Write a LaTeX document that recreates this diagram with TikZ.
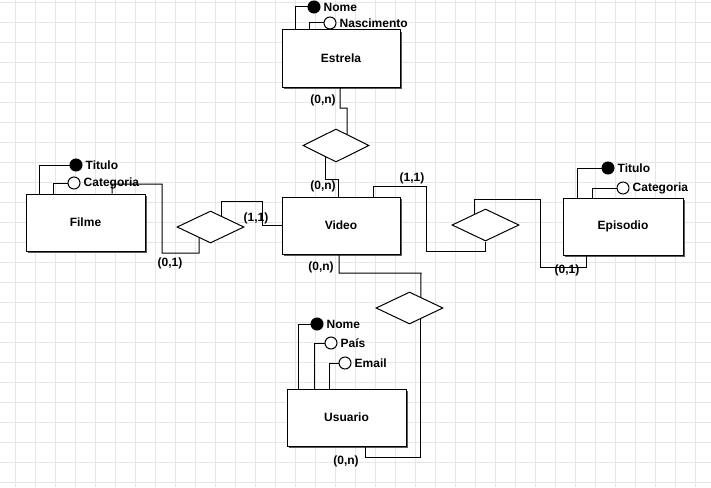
\documentclass[tikz,border=0pt]{standalone}
\usepackage{fontspec}
\setmainfont{Liberation Sans}
\usetikzlibrary{shapes.geometric,calc,shadows}
\definecolor{gridc}{HTML}{E6E6E6}
\begin{document}
\begin{tikzpicture}[x=1pt,y=-1pt,
  ent/.style={draw,fill=white,line width=1pt,minimum width=118pt,minimum height=57pt,inner sep=0pt,
    font=\fontsize{12}{14}\selectfont\bfseries,
    drop shadow={shadow xshift=2pt,shadow yshift=-2pt,fill=black!65,opacity=1}},
  rel/.style={draw,fill=white,diamond,minimum width=67pt,minimum height=32pt,inner sep=0pt,line width=1pt},
  keyatt/.style={circle,draw,fill=black,minimum size=12pt,inner sep=0pt,line width=1pt},
  att/.style={circle,draw,fill=white,minimum size=12pt,inner sep=0pt,line width=1pt},
  lbl/.style={font=\fontsize{12}{14}\selectfont\bfseries,inner sep=1pt},
  conn/.style={line width=1pt},
]
\useasboundingbox (0,0) rectangle (711,487);
\fill[white] (0,0) rectangle (711,487);
\foreach \x in {15,35,...,695} \draw[gridc,line width=0.6pt] (\x,0) -- (\x,487);
\foreach \y in {2,22,...,482} \draw[gridc,line width=0.6pt] (0,\y) -- (711,\y);

% entities
\node[ent] (estrela) at (341,58.5) {Estrela};
\node[ent] (video) at (341,225.5) {Video};
\node[ent,minimum width=119pt] (filme) at (85.5,222.5) {Filme};
\node[ent,minimum width=120pt] (episodio) at (623,226.5) {Episodio};
\node[ent,minimum width=119pt] (usuario) at (346.5,417.5) {Usuario};

% relationships
\node[rel,minimum width=66pt,minimum height=33pt] (r1) at (336,145.5) {};
\node[rel] (r2) at (210.5,227) {};
\node[rel] (r3) at (485.5,225) {};
\node[rel] (r4) at (409.5,308) {};

% attributes
\node[keyatt,label={[lbl,label distance=2pt]right:Nome}] (enome) at (314,7) {};
\node[att,label={[lbl,label distance=2pt]right:Nascimento}] (enasc) at (330,23) {};
\node[keyatt,label={[lbl,label distance=2pt]right:Titulo}] (ftit) at (76,165) {};
\node[att,label={[lbl,label distance=2pt]right:Categoria}] (fcat) at (74,183) {};
\node[keyatt,label={[lbl,label distance=2pt]right:Titulo}] (ptit) at (608,168) {};
\node[att,label={[lbl,label distance=2pt]right:Categoria}] (pcat) at (623,188) {};
\node[keyatt,label={[lbl,label distance=2pt]right:Nome}] (unome) at (317,324) {};
\node[att,label={[lbl,label distance=2pt]right:País}] (upais) at (331,343) {};
\node[att,label={[lbl,label distance=2pt]right:Email}] (uemail) at (345,363) {};

% attribute lines
\draw[conn] (estrela.north -| 295,0) |- (enome.west);
\draw[conn] (estrela.north -| 309,0) |- (enasc.west);
\draw[conn] (filme.north -| 39,0) |- (ftit.west);
\draw[conn] (filme.north -| 53,0) |- (fcat.west);
\draw[conn] (episodio.north -| 577,0) |- (ptit.west);
\draw[conn] (episodio.north -| 592,0) |- (pcat.west);
\draw[conn] (usuario.north -| 298,0) |- (unome.west);
\draw[conn] (usuario.north -| 314,0) |- (upais.west);
\draw[conn] (usuario.north -| 329,0) |- (uemail.west);

% relationship connectors
\coordinate (r1a) at ($(r1.north)!1/3!(r1.east)$);
\coordinate (r1b) at ($(r1.south)!0.3!(r1.west)$);
\draw[conn] (estrela.south -| 340,0) |- (347,108) -- (r1a);
\draw[conn] (r1b) |- (338,179) -- (video.north -| 338,0);

\coordinate (r2a) at ($(r2.north)!1/3!(r2.east)$);
\coordinate (r2b) at ($(r2.south)!1/3!(r2.west)$);
\draw[conn] (filme.north -| 112,0) |- (162,184) |- (199,253) -- (r2b);
\draw[conn] (r2a) |- (262,201) |- (video.west);

\coordinate (r3a) at ($(r3.north)!1/3!(r3.west)$);
\draw[conn] (video.north -| 373,0) |- (426,186) |- (485.5,251) -- (r3.south);
\draw[conn] (r3a) |- (540,199) |- (586,267) -- (episodio.south -| 586,0);

\coordinate (r4a) at ($(r4.north)!1/3!(r4.east)$);
\coordinate (r4b) at ($(r4.south)!1/3!(r4.east)$);
\draw[conn] (video.south -| 339,0) |- (421,273) -- (r4a);
\draw[conn] (r4b) |- (365,457) -- (usuario.south -| 365,0);

% cardinalities
\node[lbl] (c1) at (323,100) {(0,n)};
\node[lbl] (c2) at (323,186) {(0,n)};
\node[lbl] (c3) at (412,178) {(1,1)};
\node[lbl] (c4) at (256,218) {(1,1)};
\node[lbl] (c5) at (170,263) {(0,1)};
\node[lbl] (c6) at (567,270) {(0,1)};
\node[lbl] (c7) at (321,267) {(0,n)};
\node[lbl] (c8) at (346,461) {(0,n)};
\end{tikzpicture}
\end{document}
